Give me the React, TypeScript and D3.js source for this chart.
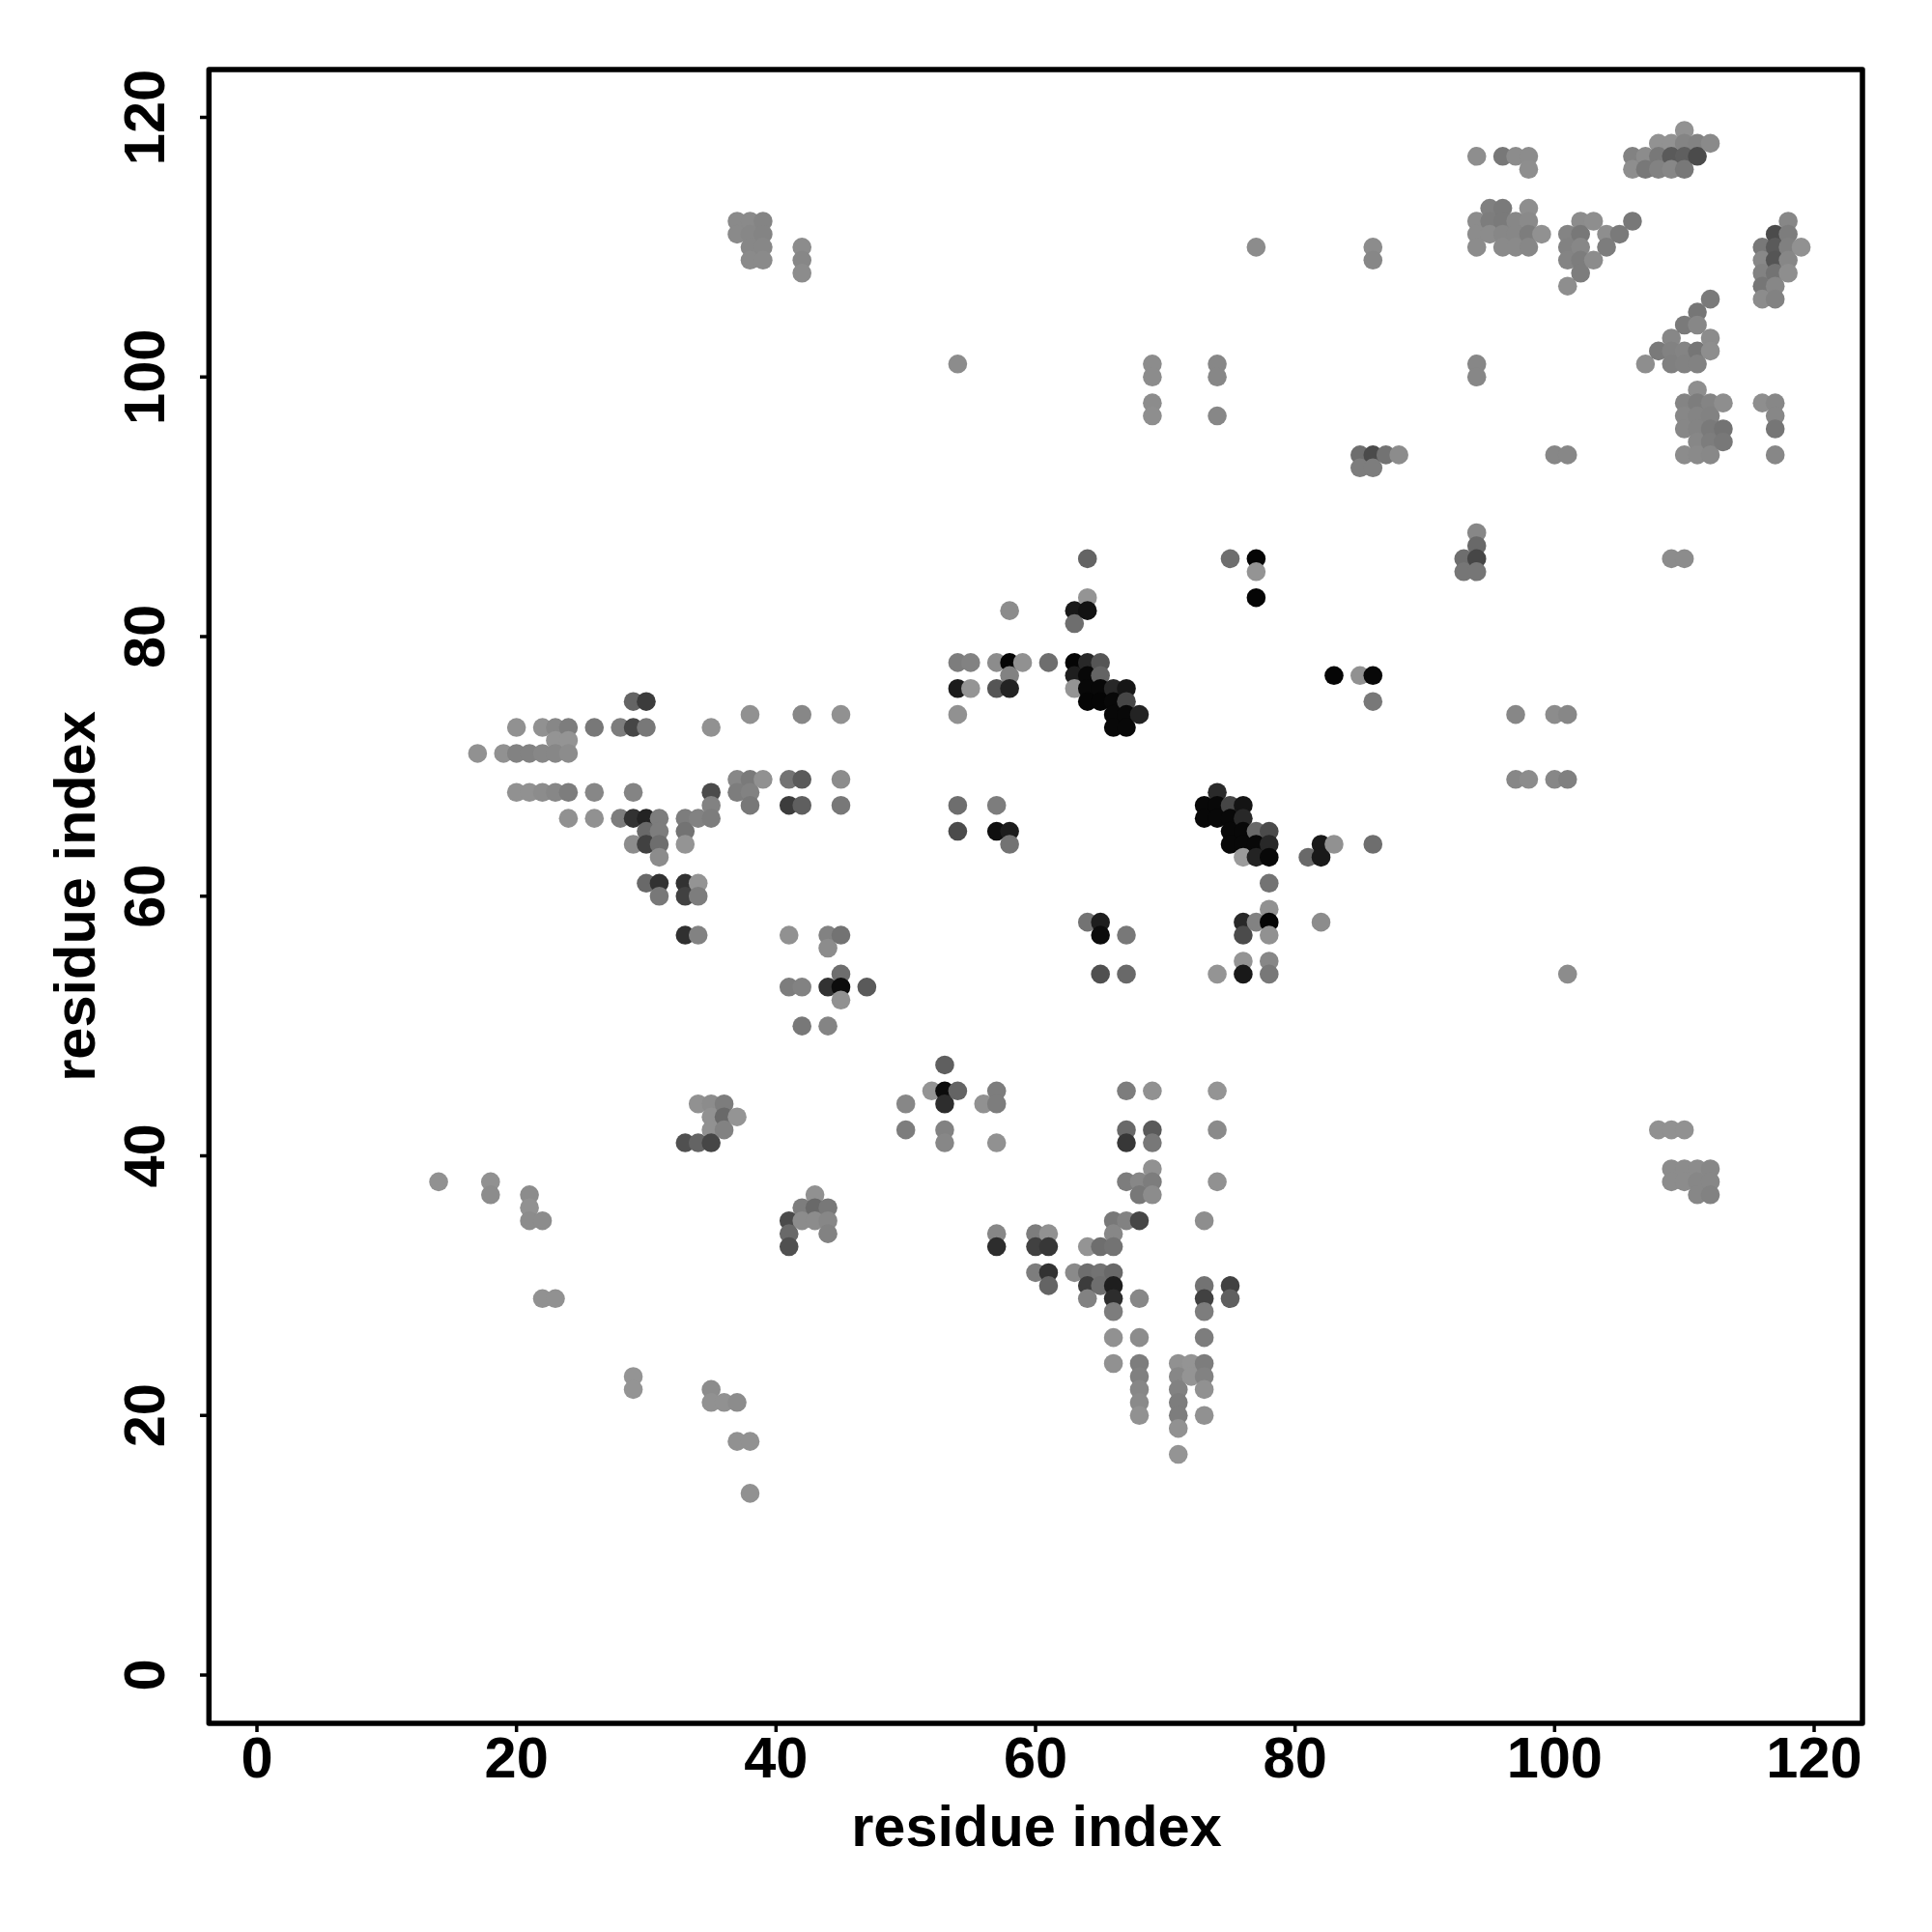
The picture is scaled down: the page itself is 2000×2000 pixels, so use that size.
import React from "react";
import * as d3 from "d3";

const xTicks = [0, 20, 40, 60, 80, 100, 120];
const yTicks = [0, 20, 40, 60, 80, 100, 120];
const xTitle = "residue index";
const yTitle = "residue index";

// each row: residue index on the y axis, residues on the x axis, grey level of each dot
type Row = [number, number[], number[]];
const rowsTop: Row[] = [
  [119, [110], [146]],
  [118, [108, 109, 110, 111, 112], [146, 146, 132, 130, 138]],
  [117, [94, 96, 97, 98, 106, 107, 108, 109, 110, 111], [142, 120, 140, 140, 130, 140, 120, 90, 95, 75]],
  [116, [98, 106, 107, 108, 109, 110], [142, 142, 120, 130, 135, 120]],
  [113, [95, 96, 98], [128, 122, 142]],
  [112, [37, 38, 39, 94, 95, 96, 97, 98, 102, 103, 106, 118], [138, 138, 132, 140, 125, 122, 135, 138, 140, 142, 120, 135]],
  [111, [37, 38, 39, 94, 95, 96, 97, 98, 99, 101, 102, 104, 105, 117, 118], [138, 135, 132, 140, 140, 135, 135, 125, 145, 132, 120, 142, 122, 75, 125]],
  [110, [38, 39, 42, 77, 86, 94, 96, 97, 98, 101, 102, 104, 116, 117, 118, 119], [135, 135, 140, 140, 140, 140, 138, 138, 135, 130, 135, 125, 120, 90, 128, 145]],
  [109, [38, 39, 42, 86, 101, 102, 103, 116, 117, 118], [138, 138, 135, 135, 132, 125, 140, 136, 85, 135]],
  [108, [42, 102, 116, 117, 118], [140, 125, 130, 115, 142]],
  [107, [101, 116, 117], [142, 118, 135]],
  [106, [112, 116, 117], [122, 140, 130]],
  [105, [111], [118]],
  [104, [110, 111], [122, 135]],
  [103, [109, 112], [135, 140]],
  [102, [108, 109, 110, 111, 112], [122, 130, 132, 118, 142]],
  [101, [54, 69, 74, 94, 107, 109, 110, 111], [140, 140, 135, 135, 142, 128, 130, 130]],
  [100, [69, 74, 94], [140, 135, 135]],
  [99, [111], [142]],
  [98, [69, 110, 111, 112, 113, 116, 117], [140, 132, 125, 132, 142, 142, 135]],
  [97, [69, 74, 110, 111, 112, 117], [142, 135, 135, 132, 130, 135]],
  [96, [110, 111, 112, 113, 117], [135, 132, 122, 115, 118]],
  [95, [111, 112, 113], [135, 125, 120]],
  [94, [85, 86, 87, 88, 100, 101, 110, 111, 112, 117], [110, 75, 115, 140, 135, 135, 140, 138, 136, 135]],
  [93, [85, 86], [125, 125]],
  [88, [94], [135]],
  [87, [94], [105]],
  [86, [64, 75, 77, 93, 94, 109, 110], [100, 110, 5, 110, 70, 140, 140]],
  [85, [77, 93, 94], [148, 118, 118]],
  [83, [64, 77], [148, 5]],
  [82, [58, 63, 64], [140, 25, 18]],
  [81, [63], [110]],
  [78, [54, 55, 57, 58, 59, 61, 63, 64, 65], [125, 130, 140, 5, 145, 110, 5, 40, 85]],
  [77, [58, 63, 64, 65, 83, 85, 86], [130, 30, 8, 100, 5, 145, 8]],
  [76, [54, 55, 57, 58, 63, 64, 65, 66, 67], [28, 148, 85, 35, 148, 8, 8, 40, 22]],
  [75, [29, 30, 64, 65, 66, 67, 86], [100, 60, 5, 5, 8, 70, 120]],
  [74, [38, 42, 45, 54, 66, 67, 68, 97, 100, 101], [145, 135, 145, 145, 8, 8, 35, 135, 140, 135]],
  [73, [20, 22, 23, 24, 26, 28, 29, 30, 35, 66, 67], [145, 145, 135, 125, 120, 125, 70, 120, 145, 8, 8]],
  [72, [23, 24], [148, 148]],
  [71, [17, 19, 20, 21, 22, 23, 24], [145, 145, 130, 130, 135, 135, 140]],
  [69, [37, 38, 39, 41, 42, 45, 97, 98, 100, 101], [135, 122, 145, 115, 90, 140, 135, 140, 135, 128]],
  [68, [20, 21, 22, 23, 24, 26, 29, 35, 37, 38, 74], [145, 145, 140, 135, 125, 135, 132, 75, 125, 130, 42]],
  [67, [35, 38, 41, 42, 45, 54, 57, 73, 74, 75, 76], [130, 120, 60, 95, 120, 110, 125, 8, 8, 70, 20]],
  [66, [24, 26, 28, 29, 30, 31, 33, 34, 35, 73, 74, 75, 76], [145, 145, 125, 50, 35, 125, 125, 130, 125, 8, 8, 8, 40]],
  [65, [30, 31, 33, 54, 57, 58, 75, 76, 77, 78], [105, 125, 115, 75, 15, 28, 8, 8, 105, 75]],
  [64, [29, 30, 31, 33, 58, 75, 76, 77, 78, 82, 83, 86], [140, 65, 110, 148, 115, 8, 8, 8, 40, 25, 145, 110]],
  [63, [31, 76, 77, 78, 81, 82], [140, 155, 35, 8, 105, 25]],
  [61, [30, 31, 33, 34, 78], [105, 50, 50, 148, 115]],
  [60, [31, 33, 34], [120, 65, 125]],
  [59, [78], [145]],
  [58, [64, 65, 76, 77, 78, 82], [115, 30, 40, 130, 5, 140]],
  [57, [33, 34, 41, 44, 45, 65, 67, 76, 78], [48, 130, 145, 130, 115, 12, 120, 75, 145]],
  [56, [44], [140]],
  [55, [76, 78], [148, 135]],
  [54, [45, 65, 67, 74, 76, 78, 101], [110, 80, 105, 148, 25, 120, 140]],
  [53, [41, 42, 44, 45, 47], [125, 130, 50, 12, 90]],
  [52, [45], [145]],
  [50, [42, 44], [120, 132]],
  [47, [53], [95]],
  [45, [52, 53, 54, 57, 67, 69, 74], [148, 12, 100, 125, 125, 145, 148]],
  [44, [34, 35, 36, 50, 53, 56, 57], [145, 140, 125, 135, 45, 145, 125]],
  [43, [35, 36, 37], [145, 105, 148]],
  [42, [35, 36, 50, 53, 67, 69, 74, 108, 109, 110], [145, 130, 125, 130, 105, 90, 138, 145, 145, 145]],
  [41, [33, 34, 35, 53, 57, 67, 69], [80, 100, 70, 135, 145, 55, 120]],
  [39, [69, 109, 110, 111, 112], [145, 140, 140, 140, 135]],
  [38, [14, 18, 67, 68, 69, 74, 109, 110, 111, 112], [145, 145, 125, 135, 125, 145, 140, 140, 135, 135]],
  [37, [18, 21, 43, 68, 69, 111, 112], [140, 140, 145, 120, 140, 135, 130]],
  [36, [21, 42, 43, 44], [145, 125, 105, 120]],
  [35, [21, 22, 41, 42, 43, 44, 66, 67, 68, 73], [140, 140, 75, 140, 140, 135, 120, 130, 70, 142]],
  [34, [41, 44, 57, 60, 61, 66], [105, 130, 135, 125, 145, 135]],
  [33, [41, 57, 60, 61, 64, 65, 66], [80, 45, 65, 55, 148, 110, 115]],
  [31, [60, 61, 63, 64, 65, 66], [125, 50, 138, 110, 115, 105]],
  [30, [61, 64, 65, 66, 73, 75], [100, 60, 110, 30, 115, 65]],
  [29, [22, 23, 64, 66, 68, 73, 75], [145, 145, 130, 45, 135, 65, 95]],
  [28, [66, 73], [125, 125]],
  [26, [66, 68, 73], [145, 140, 125]],
  [24, [66, 68, 71, 72, 73], [145, 125, 145, 148, 125]],
  [23, [29, 68, 71, 72, 73], [148, 128, 135, 148, 130]],
  [22, [29, 35, 68, 71, 73], [148, 140, 135, 130, 145]],
  [21, [35, 36, 37, 68, 71], [145, 145, 140, 138, 125]],
  [20, [68, 71, 73], [145, 125, 145]],
  [19, [71], [145]],
  [18, [37, 38], [145, 145]],
  [17, [71], [148]],
  [14, [38], [145]],
];

const x = d3.scaleLinear().domain([0, 120]).range([266, 1878]);
const y = d3.scaleLinear().domain([0, 120]).range([1734, 121.5]);
const left = 216.3, right = 1928, top = 72, bottom = 1784;
const font = "'Liberation Sans', Arial, sans-serif";

const dots = rowsTop
  .flatMap(([w, xs, gs]) => xs.map((v, i) => ({ v, w, g: gs[i] })))
  .sort((a, b) => a.v - b.v);

export default function App() {
  return (
    <svg width={2000} height={2000} style={{ position: "absolute", left: 0, top: 0, background: "#fff" }} fontFamily={font} fontWeight="bold">
      {dots.map((d, i) => (
        <circle key={i} cx={x(d.v)} cy={y(d.w)} r={9.8} fill={d3.rgb(d.g, d.g, d.g).formatHex()} />
      ))}
      <rect x={left} y={top} width={right - left} height={bottom - top} fill="none" stroke="#000" strokeWidth={5.5} strokeLinejoin="round" />
      {xTicks.map((t) => (
        <g key={t}>
          <line x1={x(t)} x2={x(t)} y1={bottom} y2={1793} stroke="#000" strokeWidth={3.5} />
          <text x={x(t)} y={1839.5} textAnchor="middle" fontSize={59.5}>{t}</text>
        </g>
      ))}
      {yTicks.map((t) => (
        <g key={t}>
          <line x1={207} x2={left} y1={y(t)} y2={y(t)} stroke="#000" strokeWidth={3.5} />
          <text transform={`translate(170,${y(t)}) rotate(-90)`} textAnchor="middle" fontSize={59.5}>{t}</text>
        </g>
      ))}
      <text x={1073} y={1911} textAnchor="middle" fontSize={59.5}>{xTitle}</text>
      <text transform={`translate(98,928) rotate(-90)`} textAnchor="middle" fontSize={59.5}>{yTitle}</text>
    </svg>
  );
}
